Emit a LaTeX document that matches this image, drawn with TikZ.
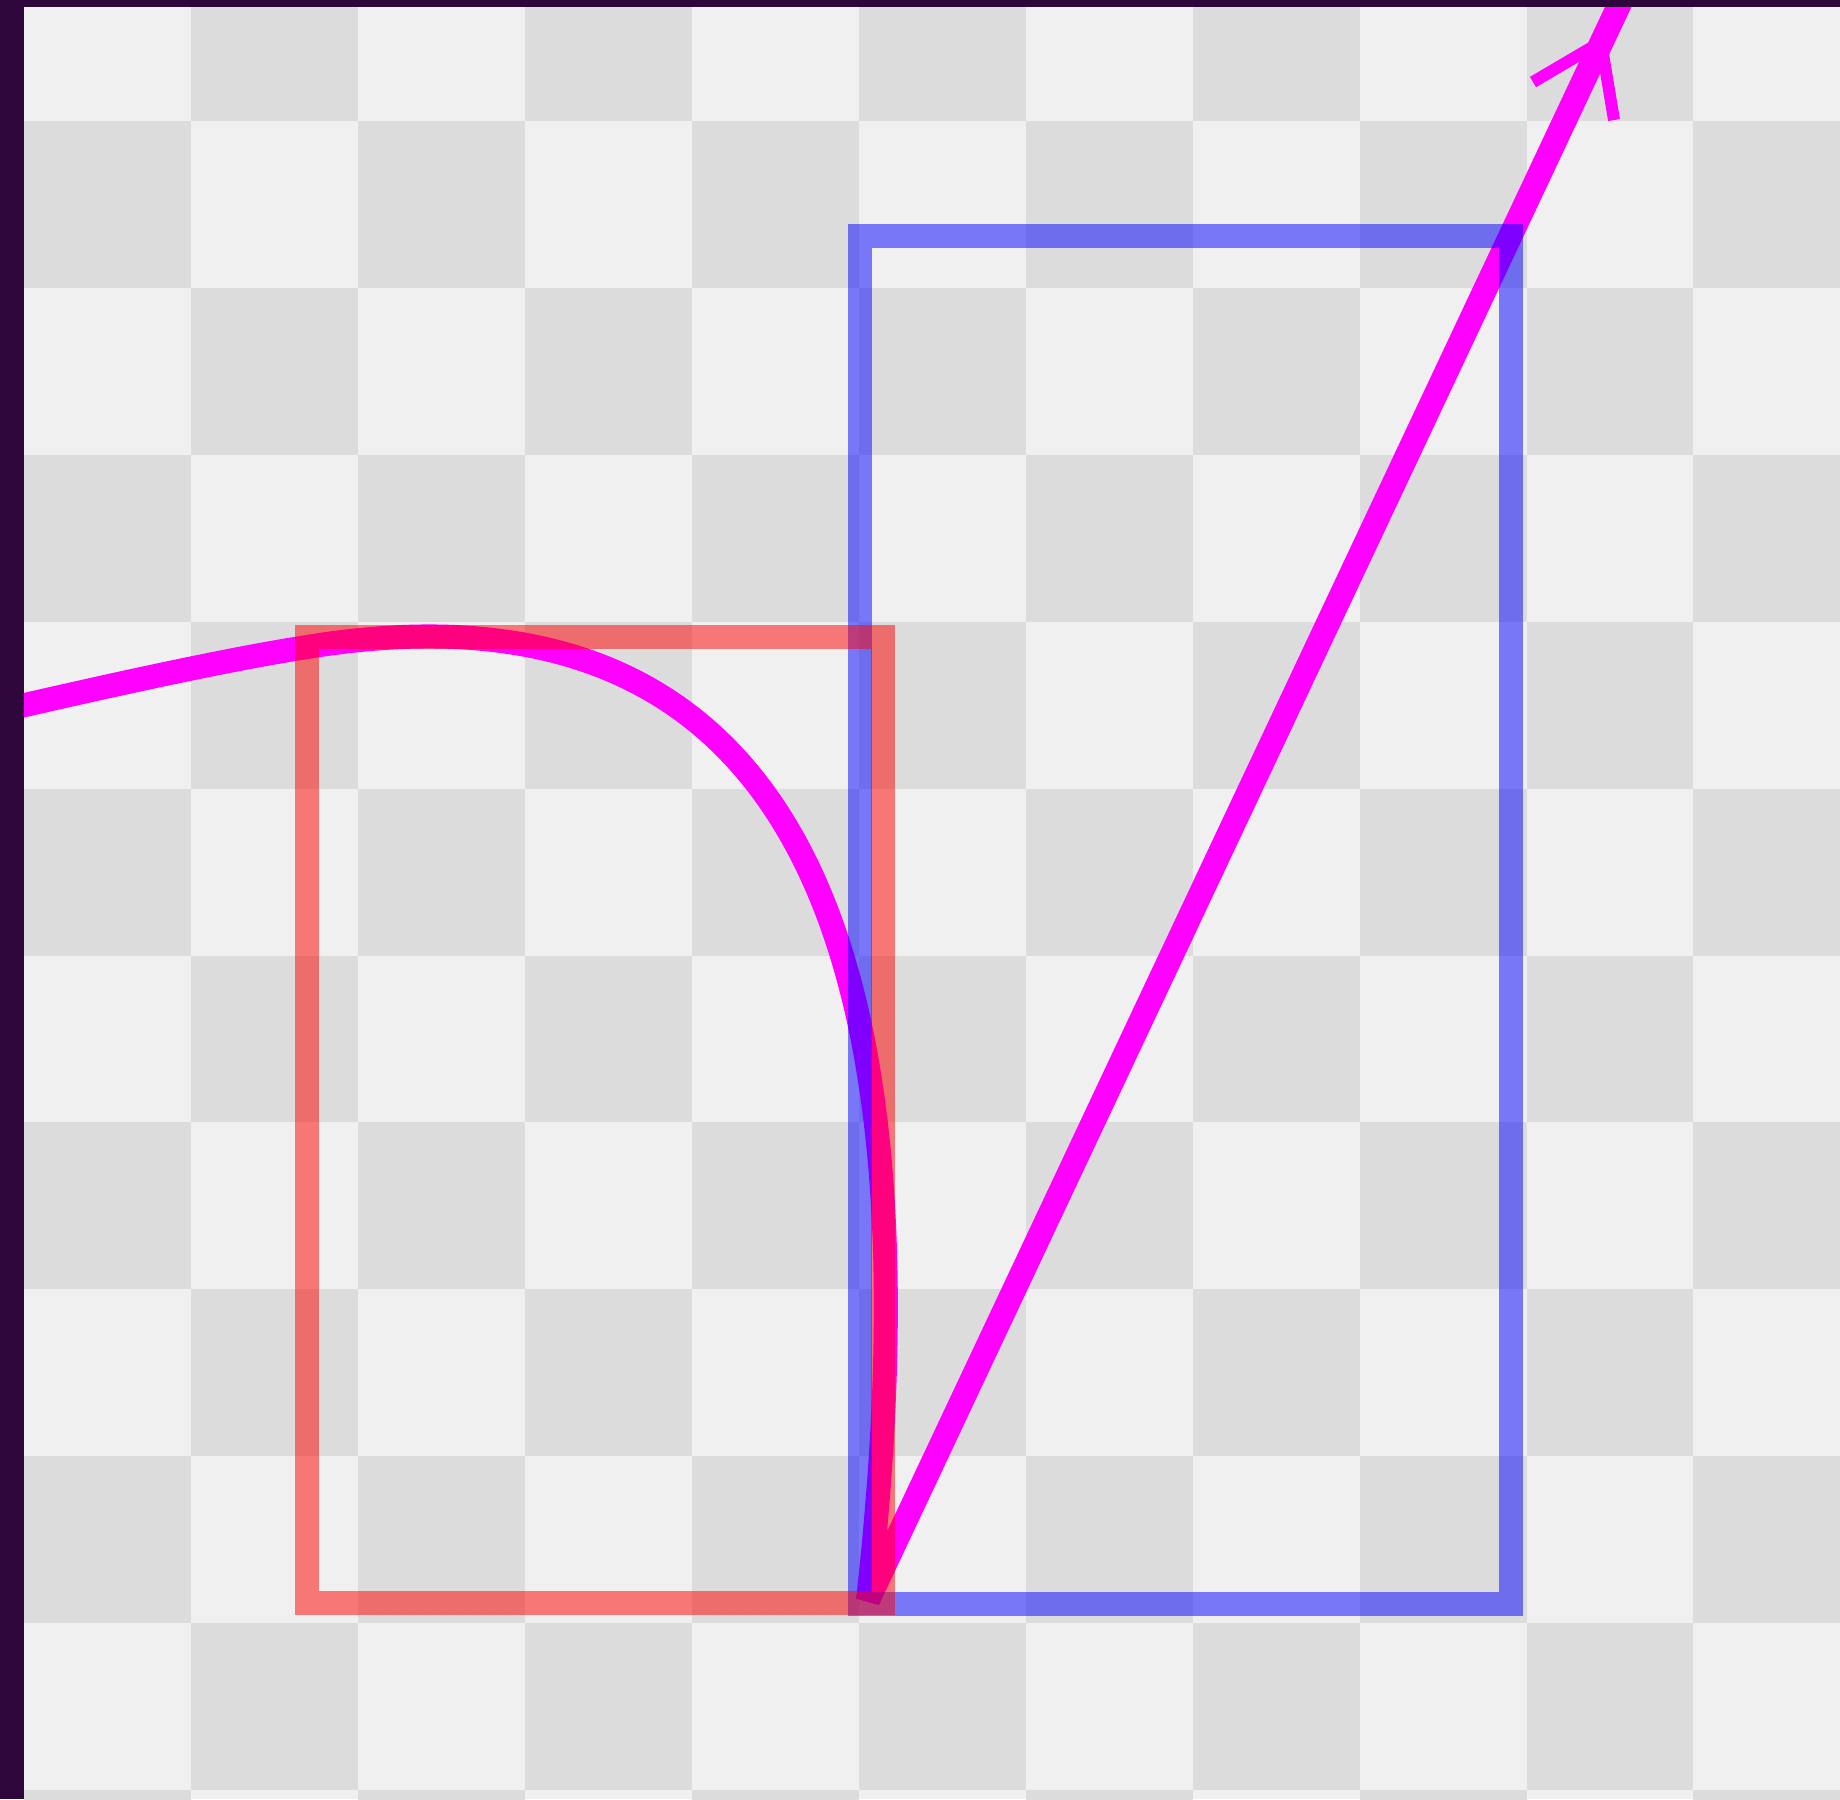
\documentclass[tikz,border=0pt]{standalone}
\usepackage{tikz}
\usepackage{xcolor}
\definecolor{frame}{RGB}{46,6,60}
\definecolor{tilelight}{RGB}{240,240,240}
\definecolor{tiledark}{RGB}{220,220,220}
\definecolor{curve}{RGB}{255,0,255}
\definecolor{boxred}{RGB}{255,0,0}
\definecolor{boxblue}{RGB}{0,0,255}

\begin{document}
\begin{tikzpicture}[x=0.01cm, y=-0.01cm,
    pen/.style = {line width=0.24cm},
    box/.style = {pen, opacity=0.5}]
        \useasboundingbox (0,0) rectangle (1840,1799);

        % checkerboard
        \begin{scope}
        \clip (24,7) rectangle (1840,1799);
        \fill[tilelight] (24,7) rectangle (1840,1799);
        \foreach \i in {0,...,10}
          \foreach \j in {0,...,11}{
            \pgfmathparse{int(mod(\i+\j,2))}
            \ifnum\pgfmathresult=1
              \fill[tiledark] (24.4+166.9*\i,-45.9+166.9*\j) rectangle ++(166.9,166.9);
            \fi
          }
        \end{scope}

        % curve and line
        \coordinate (start) at (-10,713);
        \coordinate (knee) at (307,647);
        \coordinate (bottom) at (868,1600);
        \coordinate (exit) at (1645,-50);
        \coordinate (tip) at (1601,42);
        \draw[pen, curve, line join=bevel] (start) .. controls (120,683) and (230,659) .. (knee)
            .. controls (827,562) and (935,1000) .. (bottom) -- (exit);
        \draw[line width=0.12cm, curve] (1533,82) -- (tip) -- (1614,120);

        % boxes
        \draw[box, boxblue] (860,236) rectangle (1511,1604);
        \draw[box, boxred] (307,637) rectangle (883,1603);

        % frame
        \fill[frame] (0,0) rectangle (24,1799);
        \fill[frame] (0,0) rectangle (1840,7);
    \end{tikzpicture}
\end{document}
